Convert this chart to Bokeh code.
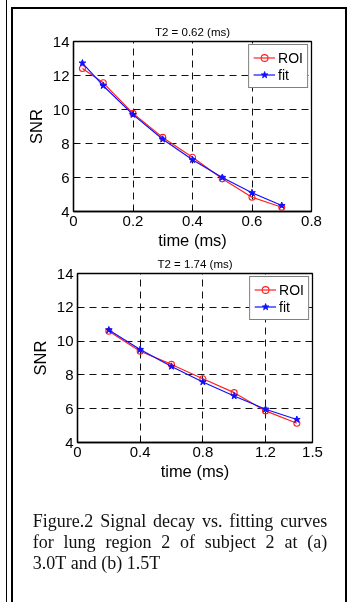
from bokeh.plotting import figure
from bokeh.layouts import column
from bokeh.models import Range1d, FixedTicker
from bokeh.core.properties import value
from bokeh.embed import file_html
from bokeh.resources import INLINE

# ---- data ----
title1 = "T2 = 0.62 (ms)"
t1 = [0.03, 0.1, 0.2, 0.3, 0.4, 0.5, 0.6, 0.7]
roi1 = [12.41, 11.57, 9.77, 8.36, 7.19, 5.92, 4.84, 4.25]
fit1 = [12.73, 11.40, 9.70, 8.25, 7.04, 6.00, 5.10, 4.35]
xticks1 = [0, 0.2, 0.4, 0.6, 0.8]
xtick_labels1 = ["0", "0.2", "0.4", "0.6", "0.8"]

title2 = "T2 = 1.74 (ms)"
t2 = [0.2, 0.4, 0.6, 0.8, 1.0, 1.2, 1.4]
roi2 = [10.58, 9.40, 8.62, 7.77, 6.95, 5.87, 5.14]
fit2 = [10.66, 9.50, 8.50, 7.58, 6.75, 5.97, 5.36]
xticks2 = [0, 0.4, 0.8, 1.2, 1.5]
xtick_labels2 = ["0", "0.4", "0.8", "1.2", "1.5"]

yticks = [4, 6, 8, 10, 12, 14]
xlabel = "time (ms)"
ylabel = "SNR"
series_names = ["ROI", "fit"]

caption_lines = [
    "Figure.2 Signal decay vs. fitting curves",
    "for lung region 2 of subject 2 at (a)",
    "3.0T and (b) 1.5T",
]

SANS = "Liberation Sans"
SERIF = "Liberation Serif"


def make_panel(title, t, roi, fit, xr, xticks, xlabels, height, left, fw, top, standoff):
    p = figure(width=350, height=height, x_range=Range1d(*xr), y_range=Range1d(4, 14),
               min_border_left=left, min_border_right=350 - left - fw,
               min_border_top=top, min_border_bottom=40, frame_align=False,
               output_backend="svg", toolbar_location=None, title=title)
    p.title.align = "center"
    p.title.text_font = SANS
    p.title.text_font_style = "normal"
    p.title.text_font_size = "11.5px"
    p.title.text_color = "black"
    p.title.standoff = standoff
    p.border_fill_color = None
    p.background_fill_color = "white"
    p.outline_line_color = "black"
    p.outline_line_width = 1.3

    p.xaxis.ticker = FixedTicker(ticks=xticks)
    p.xaxis.major_label_overrides = {k: v for k, v in zip(xticks, xlabels)}
    p.yaxis.ticker = FixedTicker(ticks=yticks)
    for ax in (p.xaxis, p.yaxis):
        ax.axis_line_color = "black"
        ax.axis_line_width = 1.3
        ax.major_tick_in = 4
        ax.major_tick_out = 0
        ax.minor_tick_line_color = None
        ax.major_label_text_font = SANS
        ax.major_label_text_font_size = "15px"
        ax.major_label_text_color = "black"
        ax.axis_label_text_font = SANS
        ax.axis_label_text_font_size = "16.5px"
        ax.axis_label_text_font_style = "normal"
        ax.axis_label_text_color = "black"
    p.xaxis.axis_label = xlabel
    p.yaxis.axis_label = ylabel
    p.xaxis.major_label_standoff = 4
    p.xaxis.axis_label_standoff = 2
    p.yaxis.major_label_standoff = 4
    p.yaxis.axis_label_standoff = 5

    p.xgrid.ticker = FixedTicker(ticks=xticks)
    p.ygrid.ticker = FixedTicker(ticks=yticks)
    for g in (p.xgrid, p.ygrid):
        g.grid_line_color = "#111111"
        g.grid_line_dash = "7 5"
        g.grid_line_width = 1

    p.line(t, roi, color="#ff2020", line_width=1.2, legend_label=series_names[0])
    p.scatter(t, roi, marker="circle", size=6, fill_color=None, line_color="#ff2020",
              line_width=1.1, legend_label=series_names[0])
    p.line(t, fit, color="#1010ff", line_width=1.2, legend_label=series_names[1])
    p.scatter(t, fit, marker="star", size=7, fill_color="#1010ff", line_color="#1010ff",
              legend_label=series_names[1])

    lg = p.legend[0]
    lg.location = "top_right"
    lg.margin = 3
    lg.padding = 4
    lg.spacing = 0
    lg.glyph_width = 22
    lg.glyph_height = 17
    lg.label_height = 17
    lg.label_standoff = 3
    lg.label_text_font = SANS
    lg.label_text_font_size = "14px"
    lg.label_text_color = "black"
    lg.border_line_color = "black"
    lg.border_line_width = 1.5
    lg.background_fill_color = "white"
    lg.background_fill_alpha = 1
    return p


f1 = make_panel(title1, t1, roi1, fit1, (0, 0.8), xticks1, xtick_labels1, 251, 73, 238, 41, 7)
f2 = make_panel(title2, t2, roi2, fit2, (0, 1.5), xticks2, xtick_labels2, 231, 77, 235, 21, 8)

# ---- caption ----
TW = {" ": 250, "(": 333, ")": 333, ".": 250, "F": 556, "S": 556, "T": 611,
      "a": 444, "b": 500, "c": 444, "d": 500, "e": 444, "f": 333, "g": 500, "i": 278,
      "j": 278, "l": 278, "n": 500, "o": 500, "r": 333, "s": 389, "t": 278, "u": 500,
      "v": 500, "y": 500}
for d in "0123456789":
    TW[d] = 500
FS = 18.0


def wwidth(s):
    return sum(TW.get(c, 500) for c in s) / 1000.0 * FS


f3 = figure(width=350, height=120, x_range=Range1d(0, 350), y_range=Range1d(120, 0),
            min_border=0, x_axis_location=None, y_axis_location=None, frame_align=False,
            output_backend="svg", toolbar_location=None)
f3.grid.visible = False
f3.outline_line_color = None
f3.border_fill_color = None
f3.background_fill_color = None

xl, xr_ = 32.3, 326.7
baselines = [38, 59, 80]
wx, wy, wt = [], [], []
for i, line in enumerate(caption_lines):
    words = line.split(" ")
    widths = [wwidth(w) for w in words]
    if i < len(caption_lines) - 1:
        gap = (xr_ - xl - sum(widths)) / (len(words) - 1)
    else:
        gap = wwidth(" ")
    x = xl
    for w, wd in zip(words, widths):
        wx.append(x)
        wy.append(baselines[i])
        wt.append(w)
        x += wd + gap
f3.text(x=wx, y=wy, text=wt, text_font=value(SERIF), text_font_size="18px",
        text_baseline="alphabetic", text_align="left", text_color="#111111")

bg = {
    "position": "fixed",
    "left": "0px",
    "top": "0px",
    "margin": "0px",
    "background-image": ", ".join(["linear-gradient(#000, #000)"] * 4),
    "background-position": "6px 0px, 11px 7px, 11px 7px, 345px 7px",
    "background-size": "1px 602px, 2px 602px, 336px 2px, 2px 602px",
    "background-repeat": "no-repeat",
}
layout = column(f1, f2, f3, spacing=0, styles=bg)

open("out.html", "w").write(file_html(layout, INLINE))
